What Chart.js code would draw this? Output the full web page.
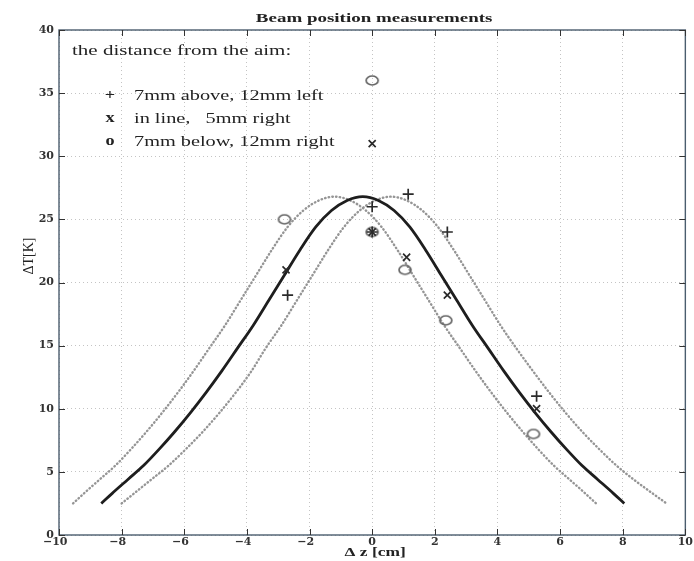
<!DOCTYPE html>
<html><head><meta charset="utf-8">
<script src="https://cdn.jsdelivr.net/npm/chart.js@4.4.0/dist/chart.umd.min.js"></script>
<style>html,body{margin:0;padding:0;background:#fff;}#wrap{width:694px;height:561px;}</style>
</head><body><div id="wrap"><canvas id="c" width="694" height="561"></canvas></div>
<script>
// ---- data ----
const xTicks = [-10, -8, -6, -4, -2, 0, 2, 4, 6, 8, 10];
const yTicks = [0, 5, 10, 15, 20, 25, 30, 35, 40];

const plusX  = [-2.7, 0, 1.15, 2.4, 5.25, 0];
const plusY  = [19, 26, 27, 24, 11, 24];
const crossX = [-2.75, 0, 1.1, 2.4, 5.25, 0];
const crossY = [21, 31, 22, 19, 10, 24];
const circX  = [-2.8, 0, 1.05, 2.35, 5.15, 0];
const circY  = [25, 36, 21, 17, 8, 24];

const fitX = [-8.65, -8.3, -7.8, -7.3, -6.8, -6.3, -5.8, -5.3, -4.8, -4.3, -3.8, -3.3, -2.8, -2.3, -1.8, -1.3, -0.8, -0.3,
              0.2, 0.7, 1.2, 1.7, 2.2, 2.7, 3.2, 3.7, 4.2, 4.7, 5.2, 5.7, 6.2, 6.7, 7.2, 7.7, 8.05];
const fitY = [2.5, 3.3, 4.4, 5.5, 6.8, 8.2, 9.7, 11.3, 13.0, 14.8, 16.6, 18.6, 20.6, 22.6, 24.4, 25.7, 26.5, 26.8,
              26.5, 25.7, 24.4, 22.6, 20.6, 18.6, 16.6, 14.8, 13.0, 11.3, 9.7, 8.2, 6.8, 5.5, 4.4, 3.3, 2.5];
const leftBandX = [-9.55, -9.2, -8.7, -8.2, -7.7, -7.2, -6.7, -6.2, -5.7, -5.2, -4.7, -4.2, -3.7, -3.2, -2.7, -2.2, -1.7, -1.2,
                   -0.7, -0.2, 0.3, 0.8, 1.3, 1.8, 2.3, 2.8, 3.3, 3.8, 4.3, 4.8, 5.3, 5.8, 6.3, 6.8, 7.15];
const leftBandY = [2.5, 3.3, 4.4, 5.5, 6.8, 8.2, 9.7, 11.3, 13.0, 14.8, 16.6, 18.6, 20.6, 22.6, 24.4, 25.7, 26.5, 26.8,
                   26.5, 25.7, 24.4, 22.6, 20.6, 18.6, 16.6, 14.8, 13.0, 11.3, 9.7, 8.2, 6.8, 5.5, 4.4, 3.3, 2.5];
const rightBandX = [-8.0, -7.6, -7.05, -6.5, -5.95, -5.4, -4.87, -4.35, -3.85, -3.4, -2.9, -2.4, -1.9, -1.4, -0.9, -0.4, 0.1, 0.6,
                    1.1, 1.6, 2.1, 2.6, 3.1, 3.6, 4.1, 4.6, 5.13, 5.65, 6.17, 6.7, 7.25, 7.8, 8.35, 8.95, 9.4];
const rightBandY = [2.5, 3.3, 4.4, 5.5, 6.8, 8.2, 9.7, 11.3, 13.0, 14.8, 16.6, 18.6, 20.6, 22.6, 24.4, 25.7, 26.5, 26.8,
                    26.5, 25.7, 24.4, 22.6, 20.6, 18.6, 16.6, 14.8, 13.0, 11.3, 9.7, 8.2, 6.8, 5.5, 4.4, 3.3, 2.5];

const titleText = 'Beam position measurements';
const legendHead = 'the distance from the aim:';
const legendMarks = ['+', 'x', 'o'];
const legendLabels = ['7mm above, 12mm left', 'in line,   5mm right', '7mm below, 12mm right'];
const xTitle = '\u0394 z [cm]';
const yTitle = '\u0394T[K]';

// ---- helpers ----
const pts = (xs, ys) => xs.map((x, i) => ({x: x, y: ys[i]}));
const SERIF = '"Liberation Serif", "DejaVu Serif", serif';

function ellipseMarker(w, h, color, lw) {
  const c = document.createElement('canvas');
  c.width = w + 4; c.height = h + 4;
  const g = c.getContext('2d');
  g.strokeStyle = color; g.lineWidth = lw;
  g.beginPath();
  g.ellipse(c.width / 2, c.height / 2, w / 2, h / 2, 0, 0, Math.PI * 2);
  g.stroke();
  return c;
}
const oMarker = ellipseMarker(12, 9, '#666', 1.7);

function stretchText(ctx, text, x, y, sx, align) {
  ctx.save();
  ctx.translate(x, y);
  ctx.scale(sx, 1);
  ctx.textAlign = align || 'left';
  ctx.fillText(text, 0, 0);
  ctx.restore();
}

const decor = {
  id: 'decor',
  afterDatasetsDraw(chart) {
    const ctx = chart.ctx, a = chart.chartArea;
    const xs = chart.scales.x, ys = chart.scales.y;
    ctx.save();
    ctx.strokeStyle = '#4b5d6e'; ctx.lineWidth = 1.4;
    ctx.strokeRect(a.left, a.top, a.right - a.left, a.bottom - a.top);
    ctx.strokeStyle = '#333'; ctx.lineWidth = 1;
    ctx.beginPath();
    xs.ticks.forEach(t => {
      const p = Math.round(xs.getPixelForValue(t.value)) + 0.5;
      ctx.moveTo(p, a.bottom); ctx.lineTo(p, a.bottom - 6);
      ctx.moveTo(p, a.top); ctx.lineTo(p, a.top + 6);
    });
    ys.ticks.forEach(t => {
      const p = Math.round(ys.getPixelForValue(t.value)) + 0.5;
      ctx.moveTo(a.left, p); ctx.lineTo(a.left + 6, p);
      ctx.moveTo(a.right, p); ctx.lineTo(a.right - 6, p);
    });
    ctx.stroke();
    ctx.fillStyle = '#222';
    ctx.textBaseline = 'middle';
    ctx.font = 'bold 12px ' + SERIF;
    stretchText(ctx, titleText, (a.left + a.right) / 2 + 2, 19, 1.58, 'center');
    ctx.font = '14px ' + SERIF;
    stretchText(ctx, legendHead, a.left + 13, 51, 1.5, 'left');
    const rows = [96, 119, 142];
    legendMarks.forEach((m, i) => {
      ctx.font = 'bold 14px ' + SERIF;
      stretchText(ctx, m, a.left + 51, rows[i] - 1, 1.3, 'center');
      ctx.font = '14px ' + SERIF;
      stretchText(ctx, legendLabels[i], a.left + 75, rows[i], 1.45, 'left');
    });
    ctx.font = 'bold 12px ' + SERIF;
    stretchText(ctx, xTitle, (a.left + a.right) / 2 + 3, 553, 1.45, 'center');
    ctx.font = '14px ' + SERIF;
    ctx.save();
    ctx.translate(29, 256);
    ctx.rotate(-Math.PI / 2);
    ctx.textAlign = 'center';
    ctx.fillText(yTitle, 0, 0);
    ctx.restore();
    ctx.restore();
  }
};

const tickFont = {family: '"DejaVu Serif", serif', size: 11, weight: 'bold'};

new Chart(document.getElementById('c'), {
  type: 'scatter',
  data: {
    datasets: [
      {data: pts(fitX, fitY), showLine: true, borderColor: '#1e1e1e', borderWidth: 2.8, pointRadius: 0, cubicInterpolationMode: 'monotone', order: 2},
      {data: pts(leftBandX, leftBandY), showLine: true, borderColor: '#959595', borderWidth: 2.4, borderDash: [0.5, 3.2], borderCapStyle: 'round', pointRadius: 0, cubicInterpolationMode: 'monotone', order: 3},
      {data: pts(rightBandX, rightBandY), showLine: true, borderColor: '#959595', borderWidth: 2.4, borderDash: [0.5, 3.2], borderCapStyle: 'round', pointRadius: 0, cubicInterpolationMode: 'monotone', order: 3},
      {data: pts(plusX, plusY), pointStyle: 'cross', pointRadius: 5.5, borderColor: '#2a2a2a', borderWidth: 1.7, order: 1},
      {data: pts(crossX, crossY), pointStyle: 'crossRot', pointRadius: 5, borderColor: '#2a2a2a', borderWidth: 1.7, order: 1},
      {data: pts(circX, circY), pointStyle: oMarker, pointRadius: 6, order: 1}
    ]
  },
  options: {
    responsive: false, animation: false,
    layout: {padding: {left: 0, right: 8, top: 30, bottom: 0}},
    plugins: {legend: {display: false}, tooltip: {enabled: false}, title: {display: false}},
    scales: {
      x: {
        type: 'linear', min: -10, max: 10,
        afterBuildTicks: s => { s.ticks = xTicks.map(v => ({value: v})); },
        afterFit: s => { s.height = 26; },
        ticks: {font: tickFont, color: '#333', padding: 1, maxRotation: 0, autoSkip: false,
                callback: v => v < 0 ? '\u2212' + Math.abs(v) + '\u2007' : String(v)},
        grid: {color: '#c4c4c4', lineWidth: 1, drawTicks: false},
        border: {display: false, dash: [1, 3]}
      },
      y: {
        type: 'linear', min: 0, max: 40,
        afterBuildTicks: s => { s.ticks = yTicks.map(v => ({value: v})); },
        afterFit: s => { s.width = 59; },
        ticks: {font: tickFont, color: '#333', padding: 5, autoSkip: false},
        grid: {color: '#c4c4c4', lineWidth: 1, drawTicks: false},
        border: {display: false, dash: [1, 3]}
      }
    }
  },
  plugins: [decor]
});
</script>
</body></html>
